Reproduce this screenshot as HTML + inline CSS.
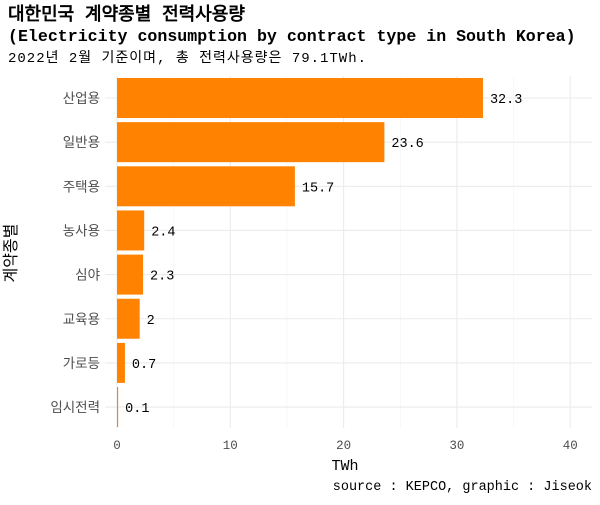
<!DOCTYPE html>
<html><head><meta charset="utf-8">
<style>
body{margin:0;background:#fff;width:600px;height:500px;overflow:hidden}
svg text{font-family:"Liberation Mono","WenQuanYi Zen Hei",monospace}
</style></head><body>
<svg width="600" height="500" xmlns="http://www.w3.org/2000/svg">
<text x="8" y="20" font-size="18" font-weight="bold" fill="#000">대한민국 계약종별 전력사용량</text>
<text x="8" y="41" font-size="16.6" font-weight="bold" fill="#000">(Electricity consumption by contract type in South Korea)</text>
<text x="8" y="62" font-size="14" fill="#000" textLength="358">2022년 2월 기준이며, 총 전력사용량은 79.1TWh.</text>
<g id="grid"></g>
<g id="bars"></g>
<g id="labels"></g>
<text x="345" y="470" font-size="15" text-anchor="middle" fill="#000">TWh</text>
<text x="16" y="253" font-size="16" text-anchor="middle" fill="#000" transform="rotate(-90 16 253)">계약종별</text>
<text x="592" y="490" font-size="13.5" text-anchor="end" fill="#000">source : KEPCO, graphic : Jiseok</text>
</svg>
<script>
const categories=["산업용","일반용","주택용","농사용","심야","교육용","가로등","임시전력"];
const values=[32.3,23.6,15.7,2.4,2.3,2,0.7,0.1];
const valueLabels=["32.3","23.6","15.7","2.4","2.3","2","0.7","0.1"];
const xTicks=[0,10,20,30,40];
const NS="http://www.w3.org/2000/svg";
const x=v=>117+v*11.33;
const y=i=>98+i*44.15;
const bh=40;
const grid=document.getElementById('grid'),bars=document.getElementById('bars'),labels=document.getElementById('labels');
function mk(tag,attrs,parent){const e=document.createElementNS(NS,tag);for(const k in attrs)e.setAttribute(k,attrs[k]);parent.appendChild(e);return e;}
for(let v=5;v<=45;v+=10){if(x(v)<592){const l=mk('line',{x1:x(v),x2:x(v),y1:76,y2:428,stroke:'#f3f3f3','stroke-width':0.6},grid);

}}
xTicks.forEach(t=>{const l=mk('line',{x1:x(t),x2:x(t),y1:76,y2:428,stroke:'#ebebeb','stroke-width':1.1},grid);


const tx=mk('text',{x:x(t),y:449,'font-size':12.5,'text-anchor':'middle',fill:'#4d4d4d'},grid);tx.textContent=t;

});
categories.forEach((c,i)=>{const l=mk('line',{x1:105,x2:592,y1:y(i),y2:y(i),stroke:'#ebebeb','stroke-width':1.1},grid);


const tl=mk('text',{x:100,y:y(i)+5,'font-size':13.5,'text-anchor':'end',fill:'#4d4d4d'},labels);tl.textContent=c;


const r=mk('rect',{x:x(0),y:y(i)-bh/2,width:Math.max(x(values[i])-x(0),0.5),height:bh,fill:'#ff8200'},bars);


const vl=mk('text',{x:x(values[i])+7,y:y(i)+5,'font-size':13.5,fill:'#000','font-family':'Liberation Sans, sans-serif'},labels);vl.textContent=valueLabels[i];

});
</script>
</body></html>
